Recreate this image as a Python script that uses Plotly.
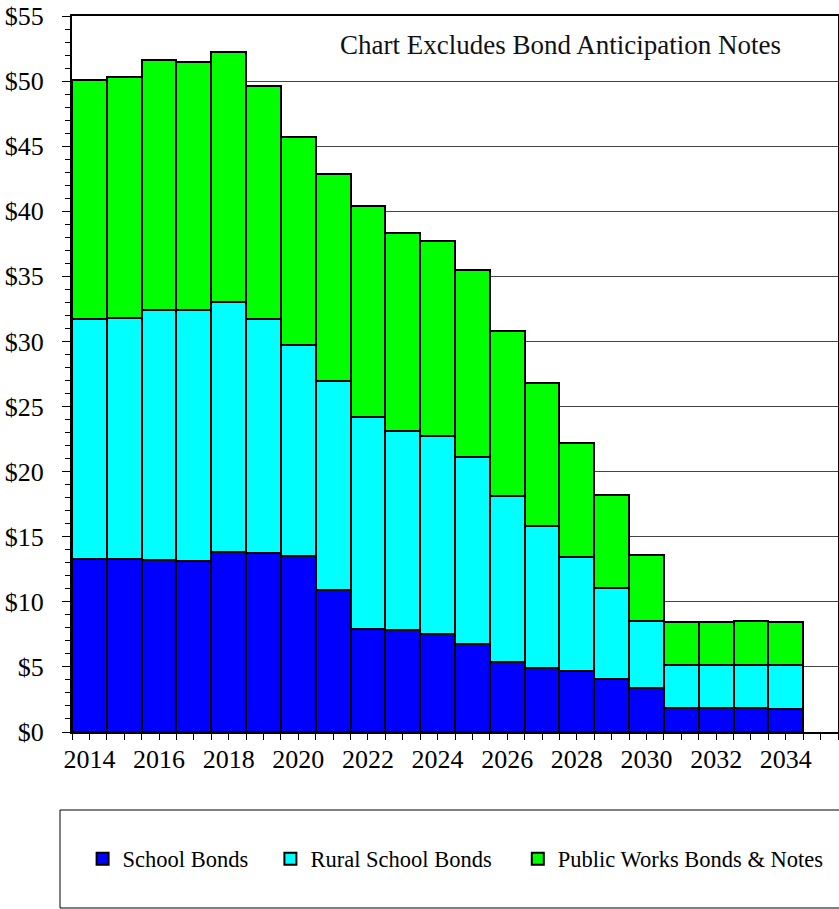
import plotly.graph_objects as go

years = list(range(2014, 2035))
school_bonds = [13.3, 13.3, 13.2, 13.15, 13.8, 13.75, 13.55, 10.9, 7.9, 7.85, 7.55,
                6.75, 5.4, 4.95, 4.7, 4.05, 3.4, 1.85, 1.85, 1.85, 1.8]
rural_school_bonds = [18.45, 18.5, 19.25, 19.25, 19.25, 17.95, 16.15, 16.1, 16.3, 15.3, 15.15,
                      14.4, 12.75, 10.9, 8.75, 7.05, 5.1, 3.3, 3.3, 3.3, 3.35]
public_works = [18.3, 18.5, 19.15, 19.1, 19.2, 17.95, 16.0, 15.9, 16.2, 15.2, 15.0,
                14.35, 12.65, 10.95, 8.75, 7.1, 5.1, 3.3, 3.3, 3.35, 3.3]

series_names = ["School Bonds", "Rural School Bonds", "Public Works Bonds & Notes"]
series_colors = ["#0000FF", "#00FFFF", "#00FF00"]
x_tick_vals = [2014, 2016, 2018, 2020, 2022, 2024, 2026, 2028, 2030, 2032, 2034]
x_tick_labels = ["2014", "2016", "2018", "2020", "2022", "2024", "2026", "2028", "2030", "2032", "2034"]
y_tick_vals = [0, 5, 10, 15, 20, 25, 30, 35, 40, 45, 50, 55]
y_tick_labels = ["$0", "$5", "$10", "$15", "$20", "$25", "$30", "$35", "$40", "$45", "$50", "$55"]
note_text = "Chart Excludes Bond Anticipation Notes"

FONT = "Liberation Serif, Times New Roman, serif"
W, H = 839, 909
ML, MT = 72, 16
MR = W - 838
MB = H - 732
PW = W - ML - MR
PH = H - MT - MB

def px_x(p):
    return (p - ML) / PW

def px_y(p):
    return (H - MB - p) / PH

fig = go.Figure()
legend_ids = ["legend", "legend2", "legend3"]
for vals, name, color, lg in zip([school_bonds, rural_school_bonds, public_works],
                                 series_names, series_colors, legend_ids):
    fig.add_trace(go.Bar(
        x=years, y=vals, name=name, legend=lg,
        marker=dict(color=color, line=dict(color="black", width=2)),
        width=1,
    ))

legend_text_px = [122.6, 310.4, 557.8]
legend_common = dict(
    orientation="h", yanchor="middle", xanchor="left",
    y=px_y(859), bgcolor="rgba(0,0,0,0)", borderwidth=0,
    font=dict(family=FONT, size=22.5, color="black"),
)
layout_legends = {}
for lg, tx in zip(legend_ids, legend_text_px):
    layout_legends[lg] = dict(legend_common, x=px_x(tx - 40))

fig.update_layout(
    width=W, height=H,
    margin=dict(l=ML, r=MR, t=MT, b=MB, autoexpand=False),
    paper_bgcolor="white", plot_bgcolor="white",
    barmode="stack", bargap=0,
    showlegend=True,
    font=dict(family=FONT, color="black"),
    xaxis=dict(
        range=[2013.5, 2035.5], tickvals=x_tick_vals, ticktext=x_tick_labels,
        ticks="outside", ticklen=6, tickwidth=1, tickcolor="black",
        minor=dict(dtick=0.5, tick0=2013.5, ticks="outside", ticklen=6, tickwidth=1,
                   tickcolor="black", showgrid=False),
        showline=True, linecolor="black", linewidth=2, mirror=True,
        showgrid=False, zeroline=False, automargin=False,
        tickfont=dict(family=FONT, size=26, color="black"),
        ticklabelstandoff=-3,
        fixedrange=True,
    ),
    yaxis=dict(
        range=[0, 55], tickvals=y_tick_vals, ticktext=y_tick_labels,
        ticks="outside", ticklen=8, tickwidth=1, tickcolor="black",
        minor=dict(dtick=1, ticks="outside", ticklen=5, tickwidth=1,
                   tickcolor="black", showgrid=False),
        showline=True, linecolor="black", linewidth=2, mirror=True,
        showgrid=True, gridcolor="#444444", gridwidth=1, zeroline=False,
        automargin=False,
        tickfont=dict(family=FONT, size=26, color="black"),
        ticklabelstandoff=13,
        fixedrange=True,
    ),
    yaxis2=dict(
        range=[0, 55], overlaying="y", side="left", anchor="x",
        tickvals=y_tick_vals, showticklabels=False,
        ticks="inside", ticklen=8, tickwidth=1, tickcolor="black",
        minor=dict(dtick=1, ticks="inside", ticklen=5, tickwidth=1, tickcolor="black"),
        showgrid=False, zeroline=False, showline=False, automargin=False,
        fixedrange=True,
    ),
    annotations=[dict(
        text=note_text, x=px_x(560), y=px_y(45), xref="paper", yref="paper",
        showarrow=False, xanchor="center", yanchor="middle",
        font=dict(family=FONT, size=27, color="#111111"),
    )],
    shapes=[dict(
        type="rect", xref="paper", yref="paper",
        x0=px_x(60), x1=px_x(845), y0=px_y(908), y1=px_y(810),
        line=dict(color="black", width=1), fillcolor="rgba(0,0,0,0)", layer="below",
    )],
    **layout_legends,
)

fig.write_html("out.html",
               config={"displayModeBar": False},
               post_script="document.body.style.margin='0';document.body.style.padding='0';")
